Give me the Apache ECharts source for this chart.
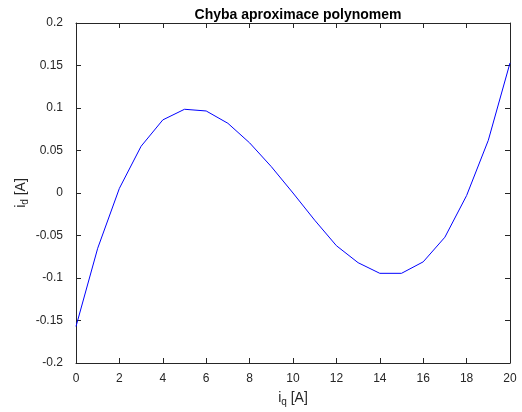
<!DOCTYPE html>
<html>
<head>
<meta charset="utf-8">
<script src="https://cdn.jsdelivr.net/npm/echarts@6/dist/echarts.min.js"></script>
<style>html,body{margin:0;padding:0;background:#fff}#c{width:522px;height:412px}</style>
</head>
<body>
<div id="c"></div>
<script>
const iq = [0,1,2,3,4,5,6,7,8,9,10,11,12,13,14,15,16,17,18,19,20];
const idErr = [-0.157,-0.065,0.0055,0.055,0.086,0.0985,0.0965,0.082,0.059,0.031,0.0,-0.032,-0.062,-0.082,-0.0945,-0.0945,-0.081,-0.052,-0.003,0.062,0.153];
const titleText = 'Chyba aproximace polynomem';

const chart = echarts.init(document.getElementById('c'));
const axisColor = '#262626';
const font = 'Liberation Sans, Arial, Helvetica, sans-serif';
const common = {
  axisLine:{show:true,onZero:false,lineStyle:{color:axisColor,width:1}},
  axisTick:{show:true,inside:true,length:5,lineStyle:{color:axisColor}},
  splitLine:{show:false}
};
const nameRich = {a:{fontFamily:font,fontSize:14,color:axisColor,lineHeight:16,verticalAlign:'top'},
  b:{fontFamily:font,fontSize:10,color:axisColor,lineHeight:16,verticalAlign:'bottom',padding:[8,0,0,0]}};
chart.setOption({
  animation:false,
  title:{text:titleText,left:293,top:3,textAlign:'center',
    textStyle:{fontFamily:font,fontSize:14,fontWeight:'bold',color:'#000'}},
  grid:{left:76,right:12,top:23,bottom:49},
  xAxis:[
    Object.assign({type:'value',min:0,max:20,interval:2,position:'bottom',
      axisLabel:{color:axisColor,fontFamily:font,fontSize:12,margin:10},
      name:'{a|i}{b|q}{a| [A]}',nameLocation:'middle',nameGap:28,nameMoveOverlap:false,
      nameTextStyle:{rich:nameRich}},common),
    Object.assign({type:'value',min:0,max:20,interval:2,position:'top',axisLabel:{show:false}},common)
  ],
  yAxis:[
    Object.assign({type:'value',min:-0.2,max:0.2,interval:0.05,position:'left',
      axisLabel:{color:axisColor,fontFamily:font,fontSize:12,margin:13,
        formatter:v=>{const r=Math.round(v*100)/100;return String(r);}},
      name:'{a|i}{b|d}{a| [A]}',nameLocation:'middle',nameGap:46,nameRotate:90,nameMoveOverlap:false,
      nameTextStyle:{rich:nameRich}},common),
    Object.assign({type:'value',min:-0.2,max:0.2,interval:0.05,position:'right',axisLabel:{show:false}},common)
  ],
  series:[{type:'line',data:iq.map((x,i)=>[x,idErr[i]]),showSymbol:false,symbol:'none',
    lineStyle:{color:'#0000ff',width:1},xAxisIndex:0,yAxisIndex:0}]
});
</script>
</body>
</html>
